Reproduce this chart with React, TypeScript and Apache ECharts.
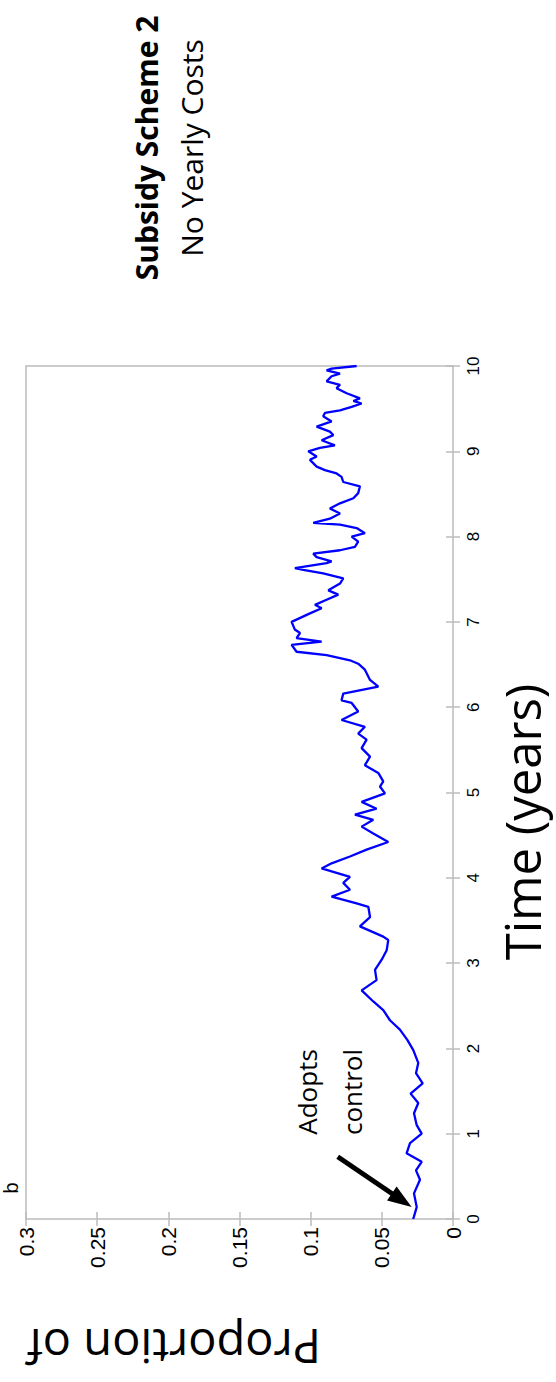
import React, { useEffect, useRef } from "react";
import * as echarts from "echarts";

// Time in years (vertical axis in the rotated figure)
const TIME = [
  0.0, 0.03, 0.14, 0.3, 0.46, 0.57, 0.67, 0.77, 0.89, 1.0, 1.1, 1.24, 1.36, 1.47, 1.59, 1.71, 1.83, 1.98,
  2.1, 2.22, 2.33, 2.45, 2.55, 2.68, 2.8, 2.92, 3.04, 3.15, 3.27,
  3.31, 3.43, 3.54, 3.66, 3.7, 3.78, 3.86, 3.94, 4.01, 4.11, 4.17, 4.25, 4.33, 4.42, 4.52, 4.6, 4.68,
  4.74, 4.81, 4.89, 4.99, 5.07, 5.13, 5.23, 5.32, 5.42, 5.52, 5.62, 5.69, 5.77, 5.85, 5.95, 6.05, 6.08,
  6.16, 6.24, 6.32, 6.44, 6.51, 6.55, 6.61, 6.65,
  6.73, 6.77, 6.81, 6.87, 6.91, 7.0, 7.1, 7.16, 7.2, 7.26, 7.32, 7.37, 7.45, 7.51, 7.57, 7.61, 7.63,
  7.69, 7.71, 7.76, 7.8, 7.84, 7.88, 7.94, 8.0, 8.04, 8.1, 8.14, 8.16, 8.21, 8.27, 8.33, 8.39, 8.45,
  8.51, 8.59, 8.64, 8.7, 8.74, 8.78, 8.82, 8.9, 8.94, 9.0, 9.04, 9.07, 9.13, 9.19, 9.23, 9.29, 9.35,
  9.41, 9.45, 9.48, 9.52, 9.56, 9.59, 9.62, 9.68, 9.74, 9.78, 9.82, 9.88, 9.91, 9.95, 9.97, 10.0,
];

// Proportion that adopts control (horizontal axis, inverted)
const PROPORTION = [
  0.028, 0.0274, 0.0255, 0.0274, 0.0232, 0.026, 0.022, 0.0326, 0.0302, 0.022, 0.0255, 0.0274, 0.0244,
  0.0298, 0.0213, 0.026, 0.0244, 0.0279,
  0.0321, 0.0373, 0.0443, 0.049, 0.056, 0.0642, 0.0537, 0.0548, 0.0501, 0.0466, 0.0455,
  0.049, 0.0654, 0.0583, 0.0595, 0.0677, 0.0853, 0.0724, 0.0771, 0.0724, 0.0923, 0.0853, 0.0724,
  0.0607, 0.0455, 0.056, 0.0642, 0.056,
  0.0689, 0.0537, 0.0642, 0.0478, 0.0513, 0.049, 0.0525, 0.0619, 0.0583, 0.0642, 0.0607, 0.0666,
  0.0619, 0.0783, 0.0666, 0.0712, 0.0783,
  0.0771, 0.0525, 0.0583, 0.0619, 0.0666, 0.0724, 0.0888, 0.1099,
  0.1134, 0.0923, 0.1099, 0.1075, 0.1111, 0.1134, 0.1005, 0.0923, 0.097, 0.0888, 0.0806, 0.0876,
  0.0794, 0.0771, 0.0912, 0.1052, 0.1111,
  0.0888, 0.0853, 0.0958, 0.0982, 0.0794, 0.0689, 0.0666, 0.0712, 0.0619, 0.0677, 0.0794, 0.0982,
  0.0865, 0.0794, 0.0865, 0.0794, 0.07,
  0.0666, 0.0654, 0.0771, 0.0783, 0.0818, 0.09, 0.0958, 0.1005, 0.0958, 0.1017, 0.0935, 0.083,
  0.0923, 0.0841, 0.0865, 0.0958, 0.0853,
  0.0912, 0.09, 0.0794, 0.0712, 0.0642, 0.07, 0.0654, 0.0747, 0.0818, 0.0794, 0.0888, 0.0853,
  0.0794, 0.0888, 0.0853, 0.0677,
];

const PROP_MIN = 0;
const PROP_MAX = 0.3;
const PROP_STEP = 0.05;
const TIME_MIN = 0;
const TIME_MAX = 10;
const TIME_STEP = 1;

// Annotation arrow, in data coordinates [proportion, time]
const ARROW_TAIL = [0.081, 0.73];
const ARROW_HEAD = [0.036, 0.22];

const TITLE_1 = "Subsidy Scheme 2";
const TITLE_2 = "No Yearly Costs";
const X_TITLE = "Time (years)";
const Y_TITLE = "Proportion of";
const NOTE_1 = "Adopts";
const NOTE_2 = "control";
const PANEL = "b";

const FRAME = "#bcbcbc";
const TICK_FONT = "'Liberation Sans', Arial, sans-serif";
const TEXT_FONT = "'Open Sans', 'Noto Sans', sans-serif";

export default function App() {
  const ref = useRef<HTMLDivElement>(null);

  useEffect(() => {
    if (!ref.current) return;
    const chart = echarts.init(ref.current, null, { renderer: "svg" });
    const data = TIME.map((t, i) => [PROPORTION[i], t]);
    const R = Math.PI / 2;

    chart.setOption({
      animation: false,
      backgroundColor: "#ffffff",
      grid: {
        left: 26,
        right: 103,
        top: 366,
        bottom: 163,
        show: true,
        borderColor: FRAME,
        borderWidth: 1.5,
      },
      xAxis: [
        {
          type: "value",
          min: PROP_MIN,
          max: PROP_MAX,
          interval: PROP_STEP,
          inverse: true,
          position: "bottom",
          axisLine: { show: false },
          axisTick: { show: true, inside: true, length: 7, lineStyle: { color: FRAME, width: 1.5 } },
          axisLabel: {
            rotate: 90,
            fontSize: 21,
            color: "#000",
            fontFamily: TICK_FONT,
            margin: 8,
            showMinLabel: true,
            showMaxLabel: true,
          },
          splitLine: { show: false },
        },
        {
          type: "value",
          min: PROP_MIN,
          max: PROP_MAX,
          interval: PROP_STEP,
          inverse: true,
          position: "top",
          axisLine: { show: false },
          axisTick: { show: true, inside: true, length: 7, lineStyle: { color: FRAME, width: 1.5 } },
          axisLabel: { show: false },
          splitLine: { show: false },
        },
      ],
      yAxis: [
        {
          type: "value",
          min: TIME_MIN,
          max: TIME_MAX,
          interval: TIME_STEP,
          position: "right",
          axisLine: { show: false },
          axisTick: { show: true, inside: true, length: 7, lineStyle: { color: FRAME, width: 1.5 } },
          axisLabel: {
            rotate: 90,
            fontSize: 17,
            color: "#000",
            fontFamily: TICK_FONT,
            margin: 12,
            showMinLabel: true,
            showMaxLabel: true,
          },
          splitLine: { show: false },
        },
        {
          type: "value",
          min: TIME_MIN,
          max: TIME_MAX,
          interval: TIME_STEP,
          position: "left",
          axisLine: { show: false },
          axisTick: { show: true, inside: true, length: 7, lineStyle: { color: FRAME, width: 1.5 } },
          axisLabel: { show: false },
          splitLine: { show: false },
        },
      ],
      series: [
        {
          type: "line",
          xAxisIndex: 0,
          yAxisIndex: 0,
          data,
          showSymbol: false,
          symbol: "none",
          lineStyle: { color: "#0000ff", width: 2.3 },
          markLine: {
            silent: true,
            symbol: ["none", "triangle"],
            symbolSize: [17, 24],
            lineStyle: { color: "#000", width: 5, type: "solid" },
            label: { show: false },
            data: [[{ coord: ARROW_TAIL }, { coord: ARROW_HEAD }]],
          },
        },
      ],
      graphic: [
        {
          type: "text",
          x: 146,
          y: 148,
          rotation: R,
          style: {
            text: TITLE_1,
            font: `bold 30px ${TEXT_FONT}`,
            fill: "#000",
            align: "center",
            verticalAlign: "middle",
          },
        },
        {
          type: "text",
          x: 191,
          y: 148,
          rotation: R,
          style: {
            text: TITLE_2,
            font: `30px ${TEXT_FONT}`,
            fill: "#000",
            align: "center",
            verticalAlign: "middle",
          },
        },
        {
          type: "text",
          x: 522,
          y: 822,
          rotation: R,
          style: {
            text: X_TITLE,
            font: `49px ${TEXT_FONT}`,
            fill: "#000",
            align: "center",
            verticalAlign: "middle",
          },
        },
        {
          type: "text",
          x: 321,
          y: 1347,
          rotation: Math.PI,
          style: {
            text: Y_TITLE,
            font: `47px ${TEXT_FONT}`,
            fill: "#000",
            align: "left",
            verticalAlign: "middle",
          },
        },
        {
          type: "text",
          x: 307,
          y: 1092,
          rotation: R,
          style: {
            text: NOTE_1,
            font: `26px ${TEXT_FONT}`,
            fill: "#000",
            align: "center",
            verticalAlign: "middle",
          },
        },
        {
          type: "text",
          x: 352,
          y: 1092,
          rotation: R,
          style: {
            text: NOTE_2,
            font: `26px ${TEXT_FONT}`,
            fill: "#000",
            align: "center",
            verticalAlign: "middle",
          },
        },
        {
          type: "text",
          x: 11,
          y: 1188,
          rotation: R,
          style: {
            text: PANEL,
            font: `20px ${TICK_FONT}`,
            fill: "#000",
            align: "center",
            verticalAlign: "middle",
          },
        },
      ],
    });

    return () => chart.dispose();
  }, []);

  return (
    <div
      ref={ref}
      style={{ position: "absolute", left: 0, top: 0, width: 556, height: 1382, background: "#fff" }}
    />
  );
}
